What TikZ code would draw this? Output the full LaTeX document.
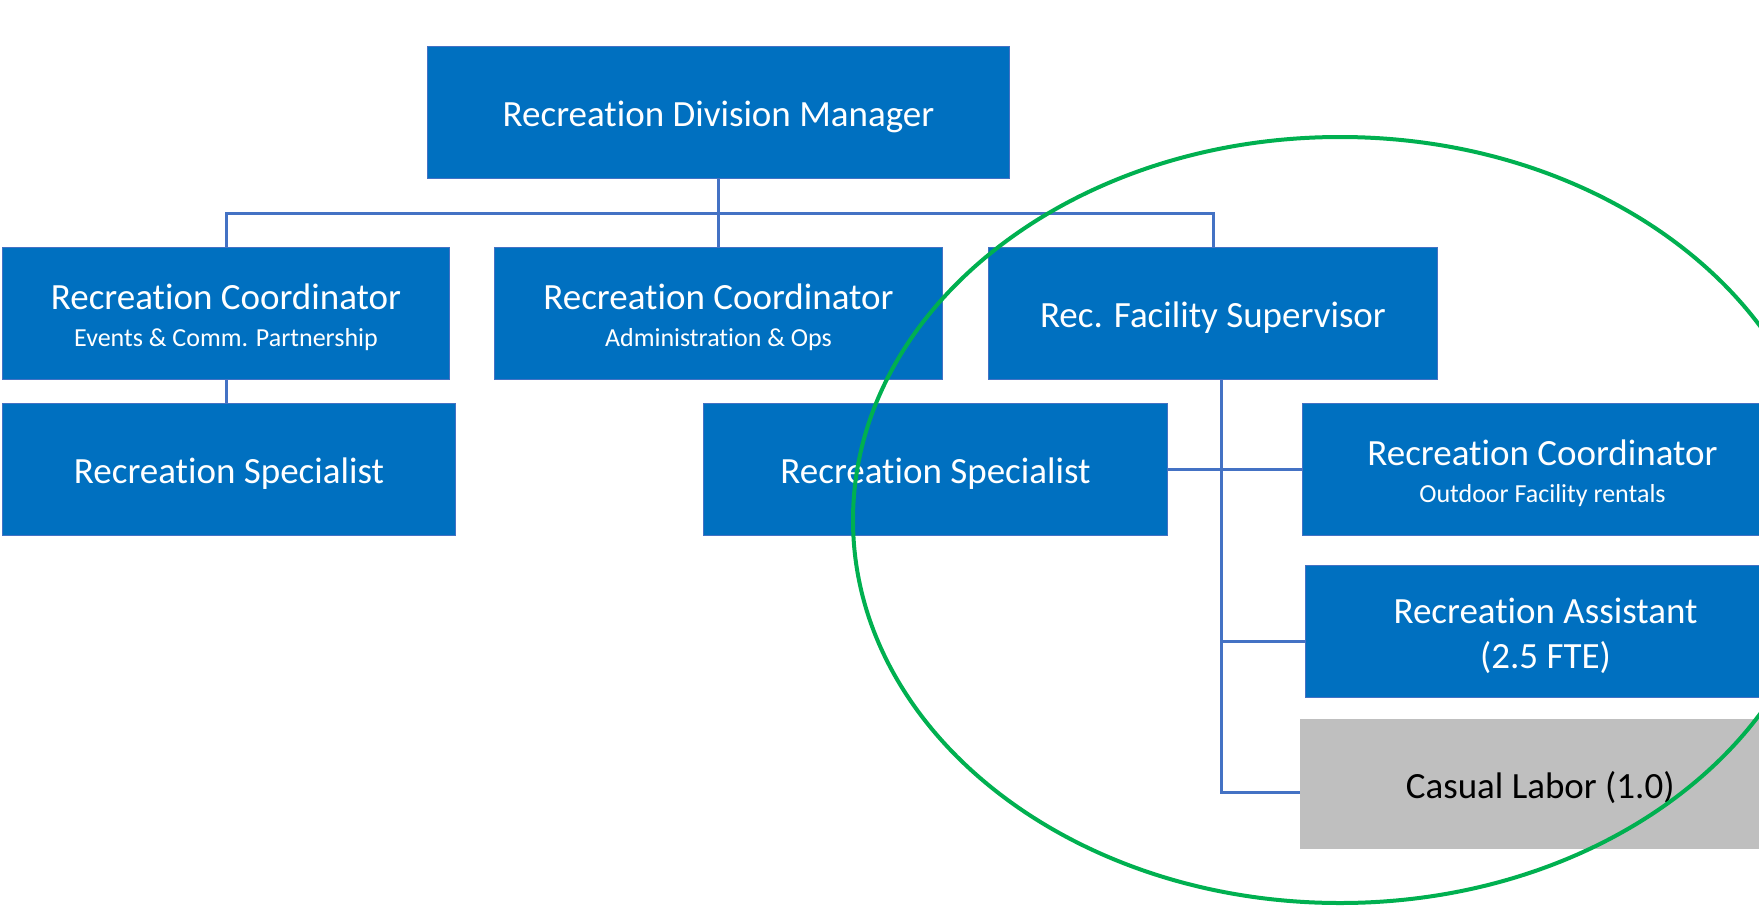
\documentclass[tikz,border=0pt]{standalone}
\usepackage{fontspec}
\setmainfont{Carlito}[Ligatures=NoCommon]
\definecolor{boxblue}{RGB}{0,112,192}
\definecolor{boxedge}{RGB}{68,114,196}
\definecolor{connblue}{RGB}{68,114,196}
\definecolor{labgray}{RGB}{191,191,191}
\definecolor{ringgreen}{RGB}{0,176,80}
\tikzset{
  orgbox/.style={draw=boxedge, line width=1pt, fill=boxblue, text=white, anchor=north west,
    align=center, inner sep=0pt, font=\fontsize{37}{45}\selectfont},
  graybox/.style={fill=labgray, text=black, anchor=north west,
    align=center, inner sep=0pt, font=\fontsize{37}{45}\selectfont},
  conn/.style={draw=connblue, line width=3pt},
  ring/.style={draw=ringgreen, line width=4pt},
}
\newcommand{\subtxt}[1]{{\fontsize{26}{30}\selectfont #1}}
\newcommand{\topst}{\rule{0pt}{34pt}}
\begin{document}
\begin{tikzpicture}[x=1pt,y=-1pt]
\clip (0,0) rectangle (1759,908);
\fill[white] (0,0) rectangle (1759,908);
% nodes
\node[orgbox, minimum width=582, minimum height=132] (mgr) at (427,46) {\topst Recreation Division Manager};
\node[orgbox, minimum width=447, minimum height=132] (c1) at (2,247) {\topst Recreation Coordinator\\[-8pt]\subtxt{Events \& Comm. Partnership}};
\node[orgbox, minimum width=448, minimum height=132] (c2) at (494,247) {\topst Recreation Coordinator\\[-8pt]\subtxt{Administration \& Ops}};
\node[orgbox, minimum width=449, minimum height=132] (sup) at (988,247) {\topst Rec. Facility Supervisor};
\node[orgbox, minimum width=453, minimum height=132] (s1) at (2,403) {\topst Recreation Specialist};
\node[orgbox, minimum width=464, minimum height=132] (s2) at (703,403) {\topst Recreation Specialist};
\node[orgbox, minimum width=480, minimum height=132] (c3) at (1302,403) {\topst Recreation Coordinator\\[-8pt]\subtxt{Outdoor Facility rentals}};
\node[orgbox, minimum width=480, minimum height=132] (asst) at (1305,565) {\topst Recreation Assistant\\(2.5 FTE)};
\node[graybox, minimum width=480, minimum height=130] (cas) at (1300,719) {\topst Casual Labor (1.0)};
% connectors
\draw[conn] (mgr.south) -- (mgr.south |- c2.north);
\draw[conn] (c1.north) -- ++(0,-34) -| (sup.north);
\draw[conn] (c1.south) -- (c1.south |- s1.north);
\coordinate (trunk) at ([xshift=8pt]sup.south);
\path (asst.west) ++(0,10) coordinate (aw);
\path (cas.west) ++(0,8) coordinate (cw);
\draw[conn] (s2.east) -- (c3.west);
\draw[conn] (trunk) |- (cw);
\draw[conn] (trunk |- aw) -- (aw);
% highlight ring
\draw[ring] (1340,520) ellipse [x radius=487, y radius=383];
\end{tikzpicture}
\end{document}
